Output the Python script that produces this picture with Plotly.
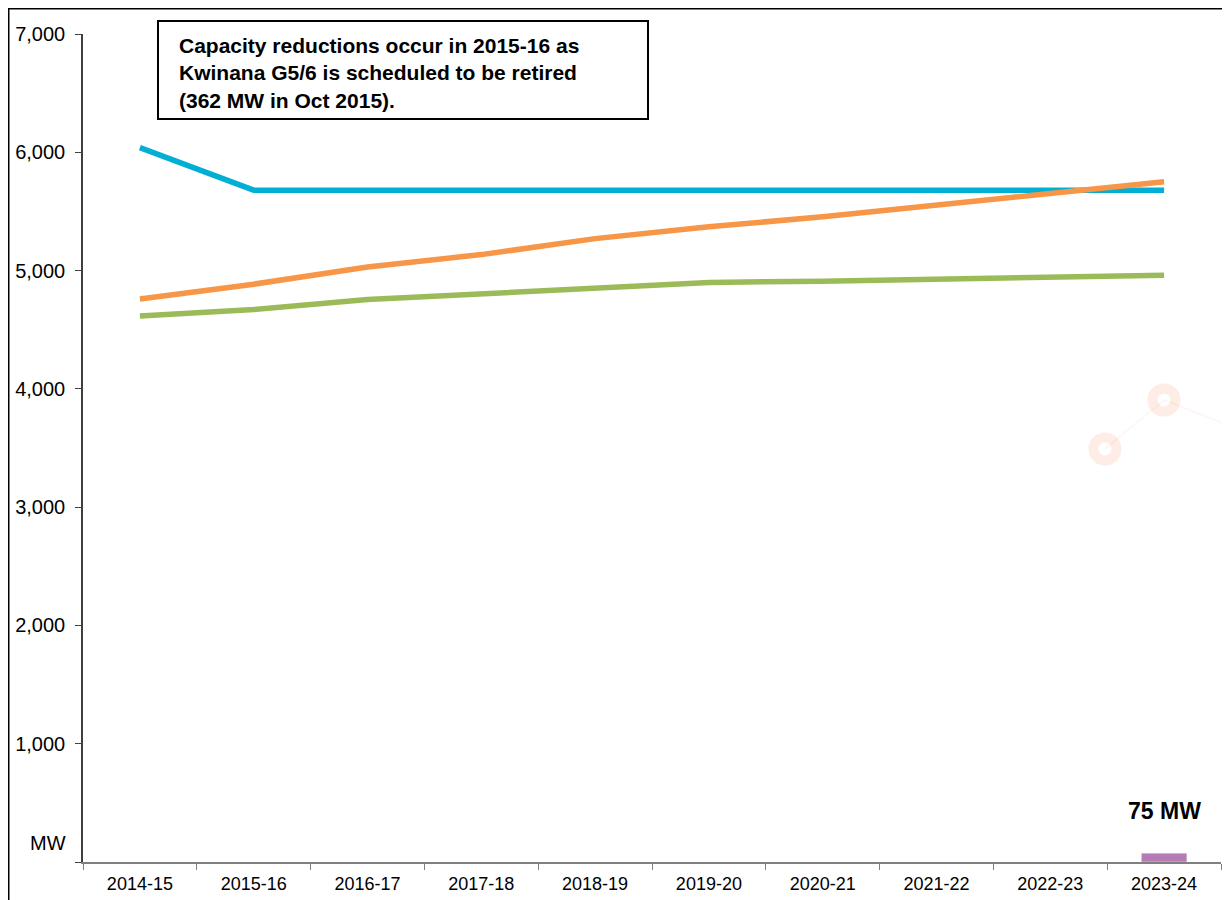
import plotly.graph_objects as go

# ---- data ----
years = ["2014-15", "2015-16", "2016-17", "2017-18", "2018-19",
         "2019-20", "2020-21", "2021-22", "2022-23", "2023-24"]
capacity = [6040, 5680, 5680, 5680, 5680, 5680, 5680, 5680, 5680, 5680]
demand_high = [4760, 4885, 5030, 5135, 5270, 5370, 5455, 5555, 5650, 5750]
demand_expected = [4615, 4670, 4755, 4805, 4860, 4900, 4910, 4930, 4945, 4960]
shortfall_years = ["2023-24"]
shortfall_mw = [75]
y_ticks = [0, 1000, 2000, 3000, 4000, 5000, 6000, 7000]
y_tick_text = ["", "1,000", "2,000", "3,000", "4,000", "5,000", "6,000", "7,000"]
note_text = ("Capacity reductions occur in 2015-16 as<br>"
             "Kwinana G5/6 is scheduled to be retired<br>"
             "(362 MW in Oct 2015).")

# page body has an 8px margin, so the figure is placed at (8, 8)
OFF = 8
W, H = 1222, 892
L, R, T, B = 75, 9, 26, 38
PW, PH = W - L - R, H - T - B


def px(x):
    return (x - OFF - L) / PW


def py(y):
    return (H - B - (y - OFF)) / PH


FONT = "Liberation Sans, Arial, sans-serif"

fig = go.Figure()
fig.add_trace(go.Bar(x=shortfall_years, y=shortfall_mw, marker_color="#b57bb5",
                     width=0.4, showlegend=False))
fig.add_trace(go.Scatter(x=years, y=demand_expected, mode="lines",
                         line=dict(color="#9bbb59", width=5.5), showlegend=False))
fig.add_trace(go.Scatter(x=years, y=capacity, mode="lines",
                         line=dict(color="#00afd3", width=5.5), showlegend=False))
fig.add_trace(go.Scatter(x=years, y=demand_high, mode="lines",
                         line=dict(color="#f79646", width=5.5), showlegend=False))

shapes = []
# outer frame
shapes.append(dict(type="rect", xref="paper", yref="paper",
                   x0=px(8.5), x1=px(1250), y0=py(930), y1=py(8.5),
                   line=dict(color="black", width=2), layer="above"))
# note box
shapes.append(dict(type="rect", xref="paper", yref="paper",
                   x0=px(158), x1=px(648), y0=py(119), y1=py(21),
                   line=dict(color="black", width=2), fillcolor="white", layer="above"))

# faint watermark
wm = "rgba(240,140,100,0.16)"
wml = "rgba(240,140,100,0.07)"
for (a, b), (c, d) in [((1105, 449), (1164, 400)), ((1164, 400), (1240, 430))]:
    shapes.append(dict(type="line", xref="paper", yref="paper",
                       x0=px(a), y0=py(b), x1=px(c), y1=py(d),
                       line=dict(color=wml, width=2), layer="below"))
for cx, cy in [(1105, 449), (1164, 400), (1240, 427), (1240, 512)]:
    shapes.append(dict(type="circle", xref="paper", yref="paper",
                       xsizemode="pixel", ysizemode="pixel",
                       xanchor=px(cx), yanchor=py(cy),
                       x0=-11.5, x1=11.5, y0=-11.5, y1=11.5,
                       line=dict(color=wm, width=10), layer="below"))

annotations = [
    dict(xref="paper", yref="paper", x=px(177), y=py(73), xanchor="left",
         yanchor="middle", align="left", showarrow=False, text=note_text,
         font=dict(family=FONT, size=21, color="black", weight="bold")),
    dict(xref="paper", yref="paper", x=px(48), y=py(843), xanchor="center",
         yanchor="middle", showarrow=False, text="MW",
         font=dict(family=FONT, size=20, color="black")),
    dict(xref="x", yref="y", x=shortfall_years[0], y=shortfall_mw[0],
         xanchor="center", yanchor="bottom", yshift=27, showarrow=False,
         text=f"{shortfall_mw[0]} MW",
         font=dict(family=FONT, size=23, color="black", weight="bold")),
]

fig.update_layout(
    width=W, height=H,
    margin=dict(l=L, r=R, t=T, b=B, pad=0, autoexpand=False),
    paper_bgcolor="white", plot_bgcolor="white",
    font=dict(family=FONT, color="black"),
    shapes=shapes, annotations=annotations,
)
fig.update_xaxes(type="category", categoryorder="array", categoryarray=years,
                 range=[-0.5, 9.5], showgrid=False, automargin=False,
                 showline=True, linecolor="#808080", linewidth=1.5,
                 ticks="outside", tickson="boundaries", ticklen=6,
                 ticklabelstandoff=5,
                 tickcolor="#808080", tickfont=dict(size=18, color="black"))
fig.update_yaxes(range=[0, 7000], showgrid=False, zeroline=False, automargin=False,
                 showline=True, linecolor="#404040", linewidth=1.5,
                 ticks="outside", ticklen=6, tickcolor="#404040",
                 tickvals=y_ticks, ticktext=y_tick_text,
                 ticklabelstandoff=6,
                 tickfont=dict(size=20, color="black"))

fig.write_html("out.html")
